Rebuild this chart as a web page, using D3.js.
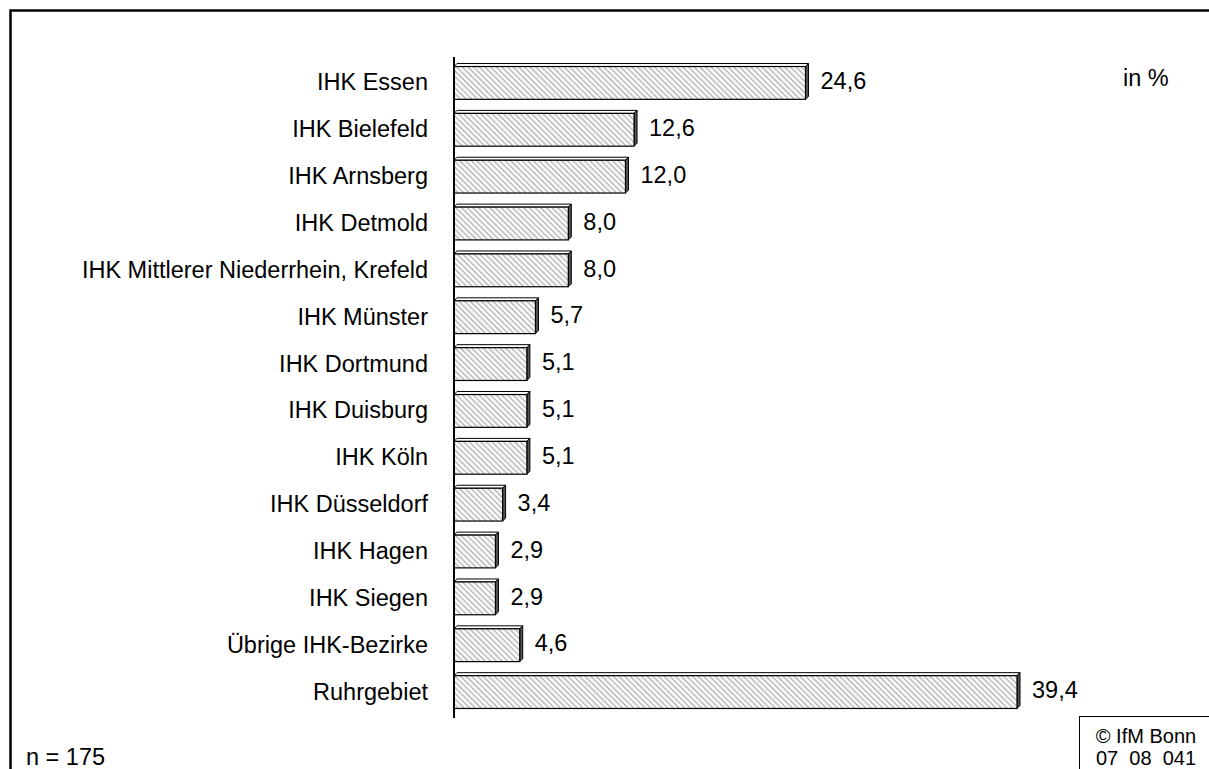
<!DOCTYPE html>
<html>
<head>
<meta charset="utf-8">
<script src="https://cdn.jsdelivr.net/npm/d3@7"></script>
<style>
  body { margin: 0; background: #fff; }
  svg { display: block; font-family: Arial, "Liberation Sans", sans-serif; }
</style>
</head>
<body>
<div id="chart"></div>
<script>
// IHK districts and shares (in %)
const categories = [
  'IHK Essen', 'IHK Bielefeld', 'IHK Arnsberg', 'IHK Detmold',
  'IHK Mittlerer Niederrhein, Krefeld', 'IHK Münster', 'IHK Dortmund',
  'IHK Duisburg', 'IHK Köln', 'IHK Düsseldorf', 'IHK Hagen', 'IHK Siegen',
  'Übrige IHK-Bezirke', 'Ruhrgebiet'
];
const values = [24.6, 12.6, 12.0, 8.0, 8.0, 5.7, 5.1, 5.1, 5.1, 3.4, 2.9, 2.9, 4.6, 39.4];
const unitLabel = 'in %';
const sampleLabel = 'n = 175';
const sourceLines = ['© IfM Bonn', '07  08  041'];

const width = 1209, height = 769;
const depth = 3;
const fontSize = 23.5;

const svg = d3.select('#chart').append('svg')
  .attr('width', width)
  .attr('height', height);

// hatch pattern for bar fronts (lines running top-left to bottom-right)
const defs = svg.append('defs');
const pat = defs.append('pattern')
  .attr('id', 'hatch')
  .attr('patternUnits', 'userSpaceOnUse')
  .attr('width', 4)
  .attr('height', 4)
  .attr('patternTransform', 'rotate(45)');
pat.append('rect').attr('width', 4).attr('height', 4).attr('fill', '#f6f6f6');
pat.append('line')
  .attr('x1', 0).attr('y1', 0).attr('x2', 4).attr('y2', 0)
  .attr('stroke', '#a0a0a0').attr('stroke-width', 1.8);

// outer frame
svg.append('path')
  .attr('d', `M10.5,${height + 5} L10.5,10.5 L${width + 5},10.5`)
  .attr('fill', 'none')
  .attr('stroke', '#000')
  .attr('stroke-width', 2.5);

const x = d3.scaleLinear().domain([0, 39.4]).range([454, 1017]);
const y = d3.scaleBand().domain(categories).range([59.5, 715.5]).paddingInner(0.3).paddingOuter(0.15);

const bars = svg.append('g').selectAll('g')
  .data(categories.map((c, i) => ({ c, v: values[i] })))
  .join('g');

// top face
bars.append('path')
  .attr('d', d => {
    const x0 = x(0), x1 = x(d.v), t = y(d.c);
    return `M${x0},${t} L${x0 + depth},${t - depth} L${x1 + depth},${t - depth} L${x1},${t} Z`;
  })
  .attr('fill', '#fff')
  .attr('stroke', '#000')
  .attr('stroke-width', 1);

// side face
bars.append('path')
  .attr('d', d => {
    const x1 = x(d.v), t = y(d.c), b = t + y.bandwidth();
    return `M${x1},${t} L${x1 + depth},${t - depth} L${x1 + depth},${b - depth} L${x1},${b} Z`;
  })
  .attr('fill', '#555')
  .attr('stroke', '#000')
  .attr('stroke-width', 1);

// front face
bars.append('rect')
  .attr('x', x(0))
  .attr('y', d => y(d.c))
  .attr('width', d => x(d.v) - x(0))
  .attr('height', y.bandwidth())
  .attr('fill', 'url(#hatch)')
  .attr('stroke', '#000')
  .attr('stroke-width', 1.2);

// value labels
bars.append('text')
  .attr('x', d => x(d.v) + 15)
  .attr('y', d => y(d.c) + y.bandwidth() / 2 - 2)
  .attr('dy', '0.35em')
  .attr('font-size', fontSize)
  .text(d => d3.format('.1f')(d.v).replace('.', ','));

// category axis
const axis = svg.append('g')
  .attr('transform', `translate(${x(0)},0)`)
  .call(d3.axisLeft(y).tickSize(0).tickPadding(26));
axis.select('.domain')
  .attr('d', `M0,57V718`)
  .attr('stroke', '#000')
  .attr('stroke-width', 2);
axis.selectAll('text')
  .attr('font-size', fontSize)
  .attr('font-family', 'Arial, "Liberation Sans", sans-serif')
  .attr('fill', '#000');

// annotations
svg.append('text')
  .attr('x', 1123).attr('y', 86)
  .attr('font-size', fontSize)
  .text(unitLabel);

svg.append('text')
  .attr('x', 26).attr('y', 765)
  .attr('font-size', fontSize)
  .text(sampleLabel);

svg.append('rect')
  .attr('x', 1079.5).attr('y', 716.5)
  .attr('width', 140).attr('height', 70)
  .attr('fill', '#fff')
  .attr('stroke', '#000')
  .attr('stroke-width', 1);

svg.append('g').selectAll('text')
  .data(sourceLines)
  .join('text')
  .attr('x', 1146)
  .attr('y', (d, i) => 743 + i * 22)
  .attr('text-anchor', 'middle')
  .attr('font-size', 20)
  .style('white-space', 'pre')
  .text(d => d);
</script>
</body>
</html>
